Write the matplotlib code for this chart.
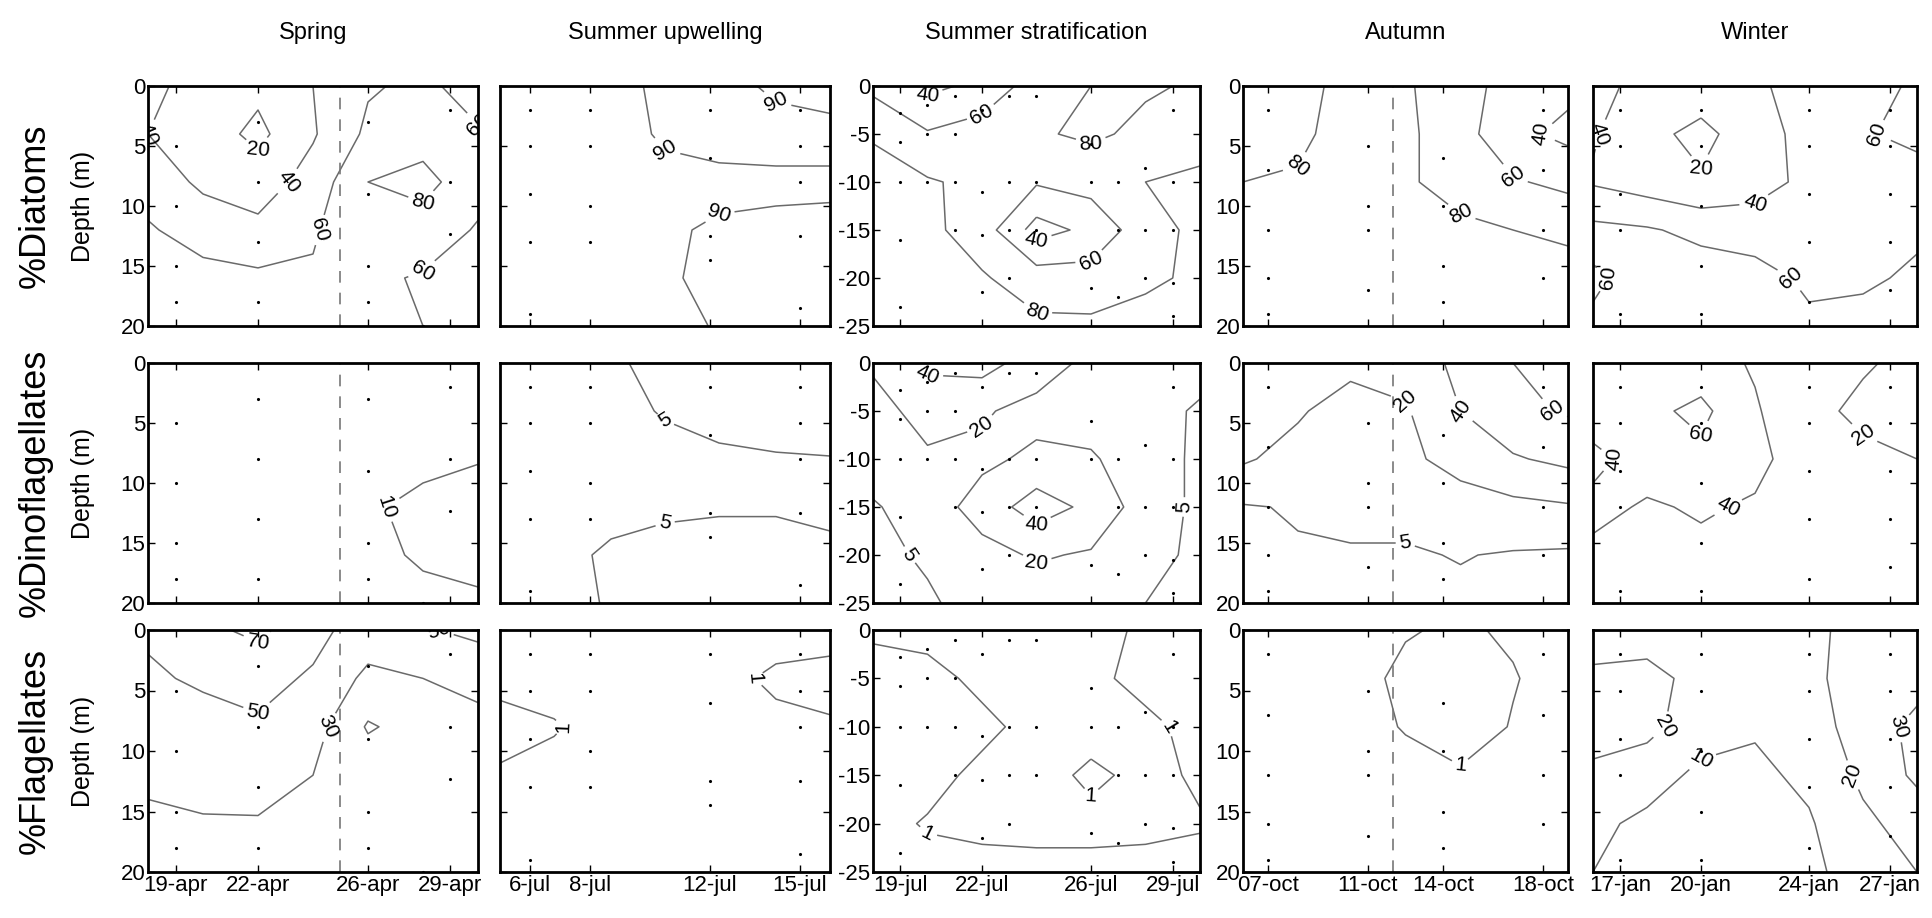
import numpy as np
import matplotlib.pyplot as plt

plt.rcParams['font.family'] = ['Liberation Sans', 'DejaVu Sans']
plt.rcParams['axes.unicode_minus'] = False

seasons = ["Spring", "Summer upwelling", "Summer stratification", "Autumn", "Winter"]
groups = ["%Diatoms", "%Dinoflagellates", "%Flagellates"]

# sampling dates shown on the x axis (day of month)
spring_days = [19, 22, 26, 29]
spring_labels = ["19-apr", "22-apr", "26-apr", "29-apr"]
upwelling_days = [6, 8, 12, 15]
upwelling_labels = ["6-jul", "8-jul", "12-jul", "15-jul"]
strat_days = [19, 22, 26, 29]
strat_labels = ["19-jul", "22-jul", "26-jul", "29-jul"]
autumn_days = [7, 11, 14, 18]
autumn_labels = ["07-oct", "11-oct", "14-oct", "18-oct"]
winter_days = [17, 20, 24, 27]
winter_labels = ["17-jan", "20-jan", "24-jan", "27-jan"]

# grid nodes of the interpolated fields
spring_grid_days = [18, 20, 22, 24, 26, 28, 30]
upwelling_grid_days = [5, 6.8, 8.7, 10.5, 12.3, 14.2, 16]
strat_grid_days = [18, 20, 22, 24, 26, 28, 30]
autumn_grid_days = [6, 8.2, 10.3, 12.5, 14.7, 16.8, 19]
winter_grid_days = [16, 18, 20, 22, 24, 26, 28]
grid_depths = [0, 4, 8, 12, 16, 20]
strat_grid_depths = [0, 5, 10, 15, 20, 25]

# %Diatoms (rows = depth, cols = date)
diatoms_spring = [[45, 32, 25, 40, 58, 64, 52],
                  [40, 30, 15, 38, 64, 72, 62],
                  [52, 36, 30, 48, 80, 86, 68],
                  [62, 52, 45, 58, 74, 72, 58],
                  [68, 66, 64, 62, 64, 58, 56],
                  [70, 68, 66, 64, 64, 60, 58]]
diatoms_upwelling = [[86, 86, 87, 92, 94, 88, 86],
                     [86, 86, 87, 91, 93, 94, 93],
                     [86, 86, 87, 88, 88, 88, 88.5],
                     [86, 86, 87, 89, 91, 92, 92],
                     [86, 86, 87, 89.5, 91, 91, 91],
                     [86, 86, 87, 88, 90.5, 90.5, 90.5]]
diatoms_strat = [[55, 35, 45, 70, 80, 82, 78],
                 [78, 62, 70, 78, 83, 76, 72],
                 [88, 82, 75, 62, 68, 80, 84],
                 [88, 85, 70, 32, 45, 72, 85],
                 [88, 86, 82, 70, 68, 78, 82],
                 [88, 88, 86, 84, 84, 84, 85]]
diatoms_autumn = [[75, 72, 88, 82, 70, 50, 45],
                  [76, 76, 88, 84, 68, 45, 35],
                  [80, 82, 86, 82, 74, 62, 55],
                  [84, 86, 86, 86, 83, 80, 76],
                  [88, 90, 90, 90, 88, 88, 88],
                  [88, 90, 90, 90, 88, 88, 88]]
diatoms_winter = [[45, 35, 30, 38, 45, 55, 62],
                  [42, 25, 15, 30, 48, 58, 66],
                  [38, 30, 22, 32, 45, 48, 50],
                  [65, 62, 55, 50, 52, 55, 58],
                  [58, 65, 70, 68, 56, 58, 62],
                  [62, 66, 70, 68, 64, 64, 64]]

# %Dinoflagellates
dinos_spring = [[7, 7, 7, 7, 7, 7, 7],
                [7, 7, 7, 7, 7, 7, 7],
                [7, 7, 7, 7, 7, 8, 9.5],
                [7, 7, 7, 7, 9, 12, 14],
                [7, 7, 7, 7, 8, 11, 12],
                [7, 7, 7, 7, 7, 8, 9]]
dinos_upwelling = [[3, 3, 4, 7, 8, 8, 8],
                   [3, 3, 3, 5.5, 7, 8, 8],
                   [3, 3, 3, 3, 4, 4.5, 4.8],
                   [3, 3, 3, 4, 4.5, 4.5, 4],
                   [3, 3, 6, 7, 7, 7, 6],
                   [3, 3, 5.5, 6, 6, 6, 6]]
dinos_strat = [[22, 45, 48, 30, 15, 10, 8],
               [15, 25, 22, 14, 12, 8, 4],
               [10, 18, 16, 24, 22, 10, 3],
               [4, 10, 28, 50, 35, 10, 3],
               [3, 6, 14, 22, 18, 8, 3],
               [3, 4, 8, 10, 8, 5, 3]]
dinos_autumn = [[30, 26, 25, 28, 45, 60, 65],
                [28, 22, 12, 18, 40, 55, 62],
                [22, 14, 12, 14, 30, 38, 45],
                [4, 6, 8, 8, 8, 15, 18],
                [3, 4, 4, 4, 5.5, 4, 3],
                [3, 3, 3, 3, 3, 3, 3]]
dinos_winter = [[45, 42, 48, 38, 28, 22, 15],
                [50, 55, 65, 42, 25, 16, 15],
                [35, 48, 55, 45, 30, 24, 20],
                [45, 38, 42, 38, 32, 28, 22],
                [36, 38, 36, 35, 33, 30, 28],
                [36, 37, 36, 35, 33, 30, 28]]

# %Flagellates
flag_spring = [[52, 65, 75, 55, 42, 48, 55],
               [48, 52, 55, 48, 25, 30, 35],
               [42, 45, 48, 38, 8, 18, 25],
               [32, 38, 40, 30, 22, 25, 28],
               [28, 28, 28, 28, 28, 28, 28],
               [28, 28, 28, 28, 28, 28, 28]]
flag_upwelling = [[0.5, 0.5, 0.5, 0.5, 0.5, 0.3, 0.3],
                  [0.5, 0.5, 0.5, 0.5, 0.5, 1.3, 1.6],
                  [1.6, 1.1, 0.5, 0.5, 0.5, 0.6, 0.8],
                  [0.8, 0.6, 0.5, 0.5, 0.5, 0.5, 0.5],
                  [0.5, 0.5, 0.5, 0.5, 0.5, 0.5, 0.5],
                  [0.5, 0.5, 0.5, 0.5, 0.5, 0.5, 0.5]]
flag_strat = [[1.2, 1.4, 1.5, 1.5, 1.4, 0.8, 0.6],
              [0.5, 0.6, 1.3, 1.5, 1.3, 0.6, 0.5],
              [0.5, 0.5, 0.7, 1.4, 1.6, 1.3, 0.6],
              [0.5, 0.6, 1.3, 1.6, 0.7, 1.4, 0.8],
              [0.6, 1.1, 1.3, 1.4, 1.4, 1.3, 1.1],
              [0.5, 0.6, 0.6, 0.6, 0.6, 0.6, 0.6]]
flag_autumn = [[0.3, 0.3, 0.3, 0.9, 1.2, 0.8, 0.3],
               [0.3, 0.3, 0.5, 1.3, 1.8, 1.1, 0.3],
               [0.3, 0.3, 0.4, 1.1, 1.8, 0.9, 0.3],
               [0.3, 0.3, 0.3, 0.5, 0.8, 0.5, 0.3],
               [0.3, 0.3, 0.3, 0.3, 0.3, 0.3, 0.3],
               [0.3, 0.3, 0.3, 0.3, 0.3, 0.3, 0.3]]
flag_winter = [[15, 14, 13, 14, 18, 23, 24],
               [22, 24, 16, 14, 18, 24, 26],
               [24, 23, 14, 11, 16, 24, 33],
               [18, 14, 8, 8, 12, 22, 32],
               [12, 8, 6, 6, 9, 18, 24],
               [10, 7, 6, 6, 8, 14, 20]]

diatoms_levels = [[20, 40, 60, 80], [90], [20, 40, 60, 80], [20, 40, 60, 80], [20, 40, 60]]
dinos_levels = [[10], [5], [5, 20, 40], [5, 20, 40, 60], [20, 40, 60]]
flag_levels = [[10, 30, 50, 70], [1], [1], [1], [10, 20, 30]]

# sample points (date, depth)
spring_dot_days = [19, 19, 19, 19, 22, 22, 22, 22, 26, 26, 26, 26, 29, 29, 29, 28]
spring_dot_depths = [5, 10, 15, 18, 3, 8, 13, 18, 3, 9, 15, 18, 2, 8, 12.3, 20]
upwelling_dot_days = [6, 6, 6, 6, 6, 8, 8, 8, 8, 12, 12, 12, 12, 15, 15, 15, 15, 15]
upwelling_dot_depths = [2, 5, 9, 13, 19, 2, 5, 10, 13, 2, 6, 12.5, 14.5, 2, 5, 8, 12.5, 18.5]
strat_dot_days = [19, 19, 19, 19, 19, 20, 20, 20, 21, 21, 21, 21, 22, 22, 22, 22,
                  23, 23, 23, 23, 24, 24, 24, 26, 26, 26, 27, 27, 27, 28, 28, 28,
                  29, 29, 29, 29, 29]
strat_dot_depths = [2.8, 5.8, 10, 16, 23, 2, 5, 10, 1, 5, 10, 15, 2.5, 11, 15.5, 21.5,
                    1, 10, 15, 20, 1, 10, 15, 6, 10, 21, 10, 15, 22, 8.5, 15, 20,
                    2.5, 10, 15, 20.5, 24]
autumn_dot_days = [7, 7, 7, 7, 7, 11, 11, 11, 11, 14, 14, 14, 14, 18, 18, 18, 18]
autumn_dot_depths = [2, 7, 12, 16, 19, 5, 10, 12, 17, 6, 10, 15, 18, 2, 7, 12, 16]
winter_dot_days = [17, 17, 17, 17, 17, 20, 20, 20, 20, 20, 24, 24, 24, 24, 24, 27, 27, 27, 27, 27]
winter_dot_depths = [2, 5, 9, 12, 19, 2, 5, 10, 15, 19, 2, 5, 9, 13, 18, 2, 5, 9, 13, 17]

season_days = [spring_days, upwelling_days, strat_days, autumn_days, winter_days]
season_labels = [spring_labels, upwelling_labels, strat_labels, autumn_labels, winter_labels]
season_grid_days = [spring_grid_days, upwelling_grid_days, strat_grid_days,
                    autumn_grid_days, winter_grid_days]
season_xlims = [(18, 30), (5, 16), (18, 30), (6, 19), (16, 28)]
season_dashed = [25, None, None, 12, None]
dot_days = [spring_dot_days, upwelling_dot_days, strat_dot_days, autumn_dot_days, winter_dot_days]
dot_depths = [spring_dot_depths, upwelling_dot_depths, strat_dot_depths,
              autumn_dot_depths, winter_dot_depths]
fields = [[diatoms_spring, diatoms_upwelling, diatoms_strat, diatoms_autumn, diatoms_winter],
          [dinos_spring, dinos_upwelling, dinos_strat, dinos_autumn, dinos_winter],
          [flag_spring, flag_upwelling, flag_strat, flag_autumn, flag_winter]]
levels = [diatoms_levels, dinos_levels, flag_levels]

W, H = 1933, 918
fig = plt.figure(figsize=(W / 100, H / 100), dpi=100)

col_left = [148, 500, 873, 1243, 1593]
col_w = [330, 330, 327, 325, 324]
row_top = [86, 363, 630]
row_h = [240, 240, 242]

for r in range(3):
    for c in range(5):
        ax = fig.add_axes([col_left[c] / W, 1 - (row_top[r] + row_h[r]) / H,
                           col_w[c] / W, row_h[r] / H])
        strat = (c == 2)
        depths = np.array(strat_grid_depths if strat else grid_depths, dtype=float)
        sign = -1 if strat else 1
        X, Y = np.meshgrid(season_grid_days[c], sign * depths)
        Z = np.array(fields[r][c], dtype=float)
        cs = ax.contour(X, Y, Z, levels=levels[r][c], colors='#6a6a6a', linewidths=1.1)
        ax.clabel(cs, fmt='%d', fontsize=15, colors='black', inline=True, inline_spacing=4)

        ax.plot(dot_days[c], sign * np.array(dot_depths[c]), 'k.', markersize=2.5)
        if season_dashed[c] is not None:
            ax.axvline(season_dashed[c], color='#777777', lw=1.2, ls=(0, (7, 6)))

        ax.set_xlim(*season_xlims[c])
        if strat:
            ax.set_ylim(-25, 0)
            ax.set_yticks([0, -5, -10, -15, -20, -25])
        else:
            ax.set_ylim(20, 0)
            ax.set_yticks([0, 5, 10, 15, 20])
        ax.set_xticks(season_days[c])
        if r == 2:
            ax.set_xticklabels(season_labels[c])
        else:
            ax.set_xticklabels([])
        if c in (1, 4):
            ax.set_yticklabels([])
        ax.tick_params(direction='in', top=True, right=True, length=5, width=1,
                       labelsize=16, pad=2)
        for sp in ax.spines.values():
            sp.set_linewidth(2)

        if r == 0:
            ax.set_title(seasons[c], fontsize=17, pad=34)
        if c == 0:
            ax.set_ylabel("Depth (m)", fontsize=18)
            ax.yaxis.set_label_coords(-0.16, 0.5)

for r in range(3):
    yc = 1 - (row_top[r] + row_h[r] / 2) / H
    fig.text(35 / W, yc, groups[r], rotation=90, fontsize=26, ha='center', va='center')

fig.savefig("out.png", dpi=100)
